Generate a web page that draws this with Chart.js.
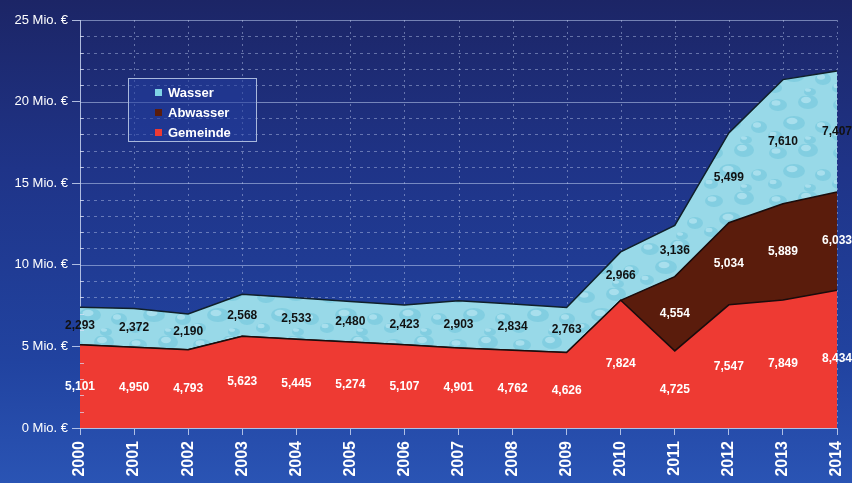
<!DOCTYPE html>
<html>
<head>
<meta charset="utf-8">
<script src="https://cdn.jsdelivr.net/npm/chart.js@4.4.0/dist/chart.umd.min.js"></script>
<style>
  html, body { margin: 0; padding: 0; }
  body {
    width: 852px; height: 483px; overflow: hidden; position: relative;
    background: linear-gradient(to bottom, #1c2566 0%, #1f3488 35%, #2143a0 75%, #2a54b4 100%);
    font-family: "Liberation Sans", Arial, sans-serif;
  }
  #wrap { position: absolute; left: 0; top: 0; width: 852px; height: 483px; }
  #legend {
    position: absolute; left: 128px; top: 78px; width: 129px; height: 64px;
    border: 1.5px solid #a9b8dc; background: rgba(34, 62, 160, 0.55);
    box-sizing: border-box; padding: 4px 0 0 26px;
  }
  .item { color: #fff; font-weight: bold; font-size: 13px; height: 20px; line-height: 20px; }
  .sw { display: inline-block; width: 7px; height: 7px; margin-right: 6px; vertical-align: 1px; }
</style>
</head>
<body>
<div id="wrap"><canvas id="chart" width="852" height="483"></canvas></div>
<div id="legend">
  <div class="item"><span class="sw" style="background:#7fd4e6"></span>Wasser</div>
  <div class="item"><span class="sw" style="background:#5a1c0c"></span>Abwasser</div>
  <div class="item"><span class="sw" style="background:#ee3a33"></span>Gemeinde</div>
</div>
<script>
// values in thousand €
const years = ['2000', '2001', '2002', '2003', '2004', '2005', '2006', '2007', '2008', '2009', '2010', '2011', '2012', '2013', '2014'];
const gemeinde = [5101, 4950, 4793, 5623, 5445, 5274, 5107, 4901, 4762, 4626, 7824, 4725, 7547, 7849, 8434];
const abwasser = [0, 0, 0, 0, 0, 0, 0, 0, 0, 0, 0, 4554, 5034, 5889, 6033];
const wasser = [2293, 2372, 2190, 2568, 2533, 2480, 2423, 2903, 2834, 2763, 2966, 3136, 5499, 7610, 7407];

// soft water texture for the Wasser band
function waterPattern() {
    const c = document.createElement('canvas');
    c.width = 64; c.height = 48;
    const g = c.getContext('2d');
    g.fillStyle = '#98d9e8';
    g.fillRect(0, 0, 64, 48);
    const drops = [[10, 9, 9, 6], [40, 6, 10, 7], [26, 27, 11, 7], [55, 31, 8, 6], [7, 40, 7, 5], [42, 44, 6, 4]];
    drops.forEach(d => {
        g.fillStyle = 'rgba(90,185,212,0.35)';
        g.beginPath(); g.ellipse(d[0], d[1], d[2], d[3], 0, 0, Math.PI * 2); g.fill();
        g.fillStyle = 'rgba(215,245,252,0.45)';
        g.beginPath(); g.ellipse(d[0] - 2, d[1] - 2, d[2] * 0.5, d[3] * 0.45, 0, 0, Math.PI * 2); g.fill();
    });
    return g.createPattern(c, 'repeat');
}

const fmt = v => v.toLocaleString('en-US');

// dotted inner grid, solid every 5 Mio.
const gridPlugin = {
    id: 'grid',
    beforeDatasetsDraw(chart) {
        const { ctx, chartArea: a, scales: { x, y } } = chart;
        ctx.save();
        ctx.lineWidth = 1;
        for (let v = 1000; v <= 25000; v += 1000) {
            const py = Math.round(y.getPixelForValue(v)) + 0.5;
            if (v % 5000 === 0) {
                ctx.setLineDash([]);
                ctx.strokeStyle = 'rgba(190,205,240,0.55)';
            } else {
                ctx.setLineDash([3, 4]);
                ctx.strokeStyle = 'rgba(190,205,240,0.45)';
            }
            ctx.beginPath(); ctx.moveTo(a.left, py); ctx.lineTo(a.right, py); ctx.stroke();
        }
        ctx.setLineDash([2, 4]);
        ctx.strokeStyle = 'rgba(190,205,240,0.45)';
        years.forEach((yr, i) => {
            if (i === 0) return;
            const px = Math.round(x.getPixelForValue(i)) + 0.5;
            ctx.beginPath(); ctx.moveTo(px, a.top); ctx.lineTo(px, a.bottom); ctx.stroke();
        });
        ctx.restore();
    },
    afterDatasetsDraw(chart) {
        // short minor tick marks inside the axis
        const { ctx, chartArea: a, scales: { y } } = chart;
        ctx.save();
        ctx.strokeStyle = 'rgba(220,225,245,0.7)';
        ctx.lineWidth = 1;
        for (let v = 1000; v < 25000; v += 1000) {
            if (v % 5000 === 0) continue;
            const py = Math.round(y.getPixelForValue(v)) + 0.5;
            ctx.beginPath(); ctx.moveTo(a.left, py); ctx.lineTo(a.left + 4, py); ctx.stroke();
        }
        ctx.restore();
    }
};

// value labels in the middle of each band
const labelPlugin = {
    id: 'bandLabels',
    afterDatasetsDraw(chart) {
        const { ctx, scales: { x, y } } = chart;
        ctx.save();
        ctx.font = 'bold 12px "Liberation Sans", Arial, sans-serif';
        ctx.textAlign = 'center';
        ctx.textBaseline = 'middle';
        const sets = chart.data.datasets;
        years.forEach((yr, i) => {
            let base = 0;
            sets.forEach(ds => {
                const v = ds.data[i];
                if (v > 0) {
                    const py = y.getPixelForValue(base + v / 2);
                    ctx.fillStyle = ds.labelColor;
                    ctx.fillText(fmt(v), x.getPixelForValue(i), py);
                }
                base += v;
            });
        });
        ctx.restore();
    }
};

const axisColor = 'rgba(200,212,240,0.85)';

const ctx = document.getElementById('chart').getContext('2d');
new Chart(ctx, {
    type: 'line',
    data: {
        labels: years,
        datasets: [
            { label: 'Gemeinde', data: gemeinde, backgroundColor: '#ee3a33', borderColor: '#1a0c0c', fill: 'origin', labelColor: '#ffffff' },
            { label: 'Abwasser', data: abwasser, backgroundColor: '#5a1c0c', borderColor: '#1a0c0c', fill: '-1', labelColor: '#ffffff' },
            { label: 'Wasser', data: wasser, backgroundColor: waterPattern(), borderColor: '#10202a', fill: '-1', labelColor: '#111111' }
        ]
    },
    options: {
        responsive: false,
        animation: false,
        layout: { padding: { top: 20, right: 15, left: 0, bottom: 0 } },
        elements: {
            line: { borderWidth: 1.5, tension: 0 },
            point: { radius: 0 }
        },
        plugins: {
            legend: { display: false },
            tooltip: { enabled: false }
        },
        scales: {
            x: {
                offset: false,
                grid: { drawOnChartArea: false, tickLength: 7, color: axisColor },
                border: { color: axisColor },
                ticks: {
                    color: '#ffffff', autoSkip: false, minRotation: 90, maxRotation: 90, padding: 6,
                    font: { family: '"Liberation Sans", Arial, sans-serif', size: 16, weight: 'bold' }
                },
                afterFit(scale) {
                    scale.height = 55;
                    scale.paddingLeft = 0;
                    scale.paddingRight = 0;
                }
            },
            y: {
                stacked: true,
                min: 0, max: 25000,
                grid: {
                    drawOnChartArea: false, tickLength: 8,
                    color: c => (c.tick && c.tick.value % 5000 === 0) ? axisColor : 'rgba(0,0,0,0)'
                },
                border: { color: axisColor },
                ticks: {
                    stepSize: 1000, color: '#ffffff', padding: 4, autoSkip: false,
                    font: { family: '"Liberation Sans", Arial, sans-serif', size: 13 },
                    callback: v => v % 5000 === 0 ? (v / 1000) + ' Mio. €' : ''
                },
                afterFit(scale) {
                    scale.width = 80;
                    scale.paddingTop = 0;
                    scale.paddingBottom = 0;
                }
            }
        }
    },
    plugins: [gridPlugin, labelPlugin]
});
</script>
</body>
</html>
